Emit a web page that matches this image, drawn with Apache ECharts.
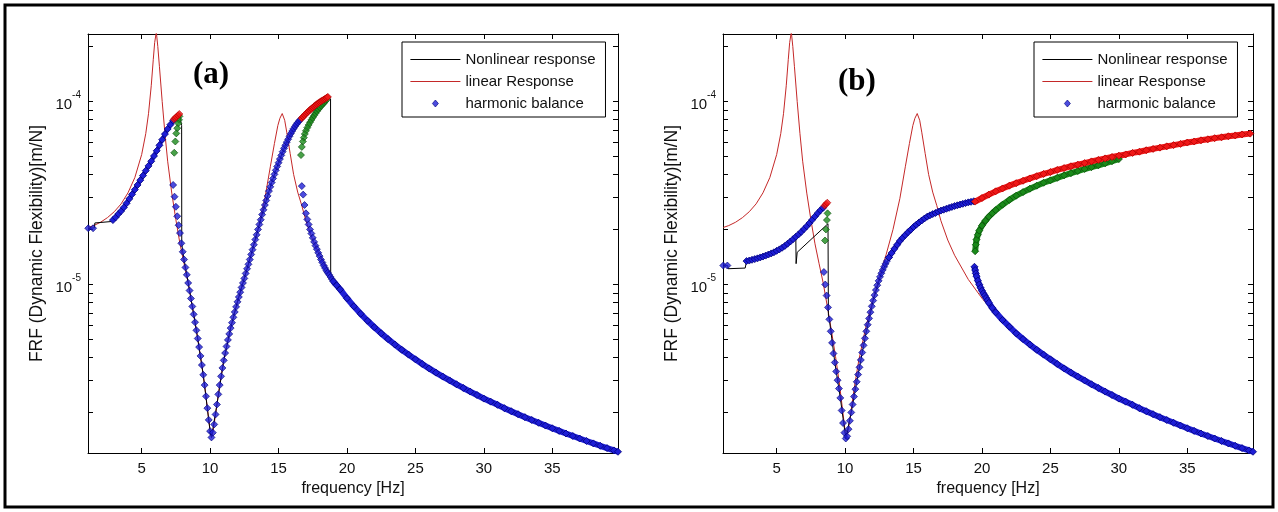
<!DOCTYPE html>
<html>
<head>
<meta charset="utf-8">
<title>FRF nonlinear vs linear</title>
<script src="https://cdn.jsdelivr.net/npm/echarts@6/dist/echarts.min.js"></script>
<style>
  html, body { margin: 0; padding: 0; background: #fff; }
  #chart { width: 1278px; height: 512px; }
</style>
</head>
<body>
<div id="chart"></div>
<script>
// axis ranges and ticks (same for both panels)
const xMin = 1.08, xMax = 39.8;
const yMin = 1.2e-6, yMax = 2.34e-4;
const xTicks = [5, 10, 15, 20, 25, 30, 35];
const yLabels = [1e-5, 1e-4];
const yTicks = [2e-6, 3e-6, 4e-6, 5e-6, 6e-6, 7e-6, 8e-6, 9e-6, 1e-5,
  2e-5, 3e-5, 4e-5, 5e-5, 6e-5, 7e-5, 8e-5, 9e-5, 1e-4, 2e-4];

// linear response, same system in both panels  [Hz, m/N]
const linResp = [[1.1,2.05e-5],[1.5,2.1e-5],[2,2.19e-5],[2.5,2.32e-5],[3,2.5e-5],[3.5,2.76e-5],[4,3.17e-5],
  [4.5,3.84e-5],[5,5.13e-5],[5.3,6.68e-5],[5.5,8.58e-5],[5.7,1.22e-4],[5.85,1.7e-4],[5.95,2.1e-4],[6.07,2.4e-4],
  [6.18,2.0e-4],[6.3,1.55e-4],[6.5,1.0e-4],[6.7,6.7e-5],[6.9,4.72e-5],[7.2,3.16e-5],[7.5,2.26e-5],[7.8,1.67e-5],
  [8.1,1.3e-5],[8.4,1.02e-5],[8.7,7.6e-6],[9.0,5.6e-6],[9.3,4.05e-6],[9.6,2.82e-6],[9.8,2.11e-6],[10.0,1.58e-6],
  [10.1,1.46e-6],[10.2,1.55e-6],[10.4,1.95e-6],[10.7,2.82e-6],[11.0,3.85e-6],[11.5,5.8e-6],[12,8.1e-6],
  [12.5,1.09e-5],[13,1.46e-5],[13.5,2.0e-5],[14,2.95e-5],[14.4,4.4e-5],[14.7,5.9e-5],[14.95,7.4e-5],[15.1,8.1e-5],
  [15.27,8.6e-5],[15.45,7.9e-5],[15.6,6.8e-5],[15.85,5.2e-5],[16.1,4.0e-5],[16.4,3.2e-5],[16.7,2.7e-5],
  [17,2.23e-5],[17.5,1.75e-5],[18,1.445e-5],[19,1.066e-5],[20,8.41e-6],[21,6.92e-6],[22,5.84e-6],[24,4.4e-6],
  [26,3.48e-6],[28,2.85e-6],[30,2.38e-6],[32,2.03e-6],[34,1.755e-6],[36,1.534e-6],[38,1.354e-6],[39.8,1.219e-6]];

// high frequency tail of the harmonic balance, lower branch
const tailResp = [[19.0,1.04e-5],[19.25,9.9e-6],[19.5,9.41e-6],[20,8.41e-6],[20.5,7.6e-6],[21,6.92e-6],[21.5,6.34e-6],
  [22,5.84e-6],[22.5,5.41e-6],[23,5.03e-6],[23.5,4.7e-6],[24,4.4e-6],[24.5,4.14e-6],[25,3.9e-6],[25.5,3.68e-6],
  [26,3.48e-6],[26.5,3.3e-6],[27,3.14e-6],[27.5,2.99e-6],[28,2.85e-6],[28.5,2.72e-6],[29,2.6e-6],[29.5,2.49e-6],
  [30,2.38e-6],[30.5,2.29e-6],[31,2.2e-6],[31.5,2.11e-6],[32,2.03e-6],[32.5,1.955e-6],[33,1.884e-6],
  [33.5,1.818e-6],[34,1.755e-6],[34.5,1.695e-6],[35,1.638e-6],[35.5,1.585e-6],[36,1.534e-6],[36.5,1.486e-6],
  [37,1.44e-6],[37.5,1.396e-6],[38,1.354e-6],[38.5,1.314e-6],[39,1.276e-6],[39.5,1.24e-6],[39.8,1.219e-6]];

// ---- panel (a) ----
const aNonlinear = [[1.1,2.03e-5],[1.55,2.04e-5],[1.58,2.17e-5],[2.8,2.21e-5],[2.9,2.25e-5],[3.5,2.52e-5],
  [4.1,2.94e-5],[4.7,3.5e-5],[5.3,4.19e-5],[5.9,5.04e-5],[6.5,6.19e-5],[6.9,7.08e-5],[7.3,7.85e-5],[7.5,8.15e-5],
  [7.75,8.55e-5],[7.92,7.4e-5],[7.93,1.68e-5],[8.0,1.51e-5],[8.5,9.27e-6],[9.0,5.62e-6],[9.5,3.21e-6],
  [10.0,1.58e-6],[10.1,1.46e-6],[10.5,2.21e-6],[11.0,3.85e-6],[11.5,5.78e-6],[12.0,8.04e-6],[12.5,1.08e-5],
  [13.0,1.46e-5],[13.5,2.0e-5],[14.0,2.72e-5],[14.5,3.61e-5],[15.0,4.63e-5],[15.5,5.77e-5],[16.0,6.9e-5],
  [16.6,7.98e-5],[17.0,8.57e-5],[17.5,9.28e-5],[18.0,9.92e-5],[18.6,1.06e-4],[18.8,1.035e-4],[18.81,1.1e-5],
  [19.0,1.04e-5],[19.5,9.41e-6],[20,8.41e-6],[21,6.92e-6],[22,5.84e-6],[24,4.4e-6],[26,3.48e-6],[28,2.85e-6],
  [30,2.38e-6],[32,2.03e-6],[34,1.755e-6],[36,1.534e-6],[38,1.354e-6],[39.8,1.219e-6]];
const aHbStart = [[1.1,2.03e-5],[1.45,2.03e-5]];
const aHbLow = [[2.9,2.25e-5],[3.1,2.33e-5],[3.3,2.43e-5],[3.5,2.52e-5],[3.7,2.64e-5],[3.9,2.78e-5],[4.1,2.94e-5],
  [4.3,3.11e-5],[4.5,3.3e-5],[4.7,3.5e-5],[4.9,3.72e-5],[5.1,3.94e-5],[5.3,4.19e-5],[5.5,4.45e-5],[5.7,4.72e-5],
  [5.9,5.04e-5],[6.1,5.38e-5],[6.3,5.77e-5],[6.5,6.19e-5],[6.7,6.64e-5],[6.9,7.08e-5],[7.1,7.48e-5],[7.3,7.85e-5]];
const aHbDrop = [[7.3,3.5e-5],[7.4,3.02e-5],[7.5,2.66e-5],[7.6,2.36e-5],[7.7,2.11e-5],[7.8,1.91e-5],[7.9,1.68e-5],
  [8.0,1.51e-5],[8.1,1.37e-5],[8.2,1.24e-5],[8.3,1.13e-5],[8.4,1.02e-5],[8.5,9.27e-6],[8.6,8.39e-6],[8.7,7.59e-6],
  [8.8,6.87e-6],[8.9,6.22e-6],[9.0,5.62e-6],[9.1,5.07e-6],[9.2,4.55e-6],[9.3,4.07e-6],[9.4,3.63e-6],[9.5,3.21e-6],
  [9.6,2.82e-6],[9.7,2.45e-6],[9.8,2.11e-6],[9.9,1.82e-6],[10.0,1.58e-6],[10.1,1.46e-6],[10.2,1.55e-6],
  [10.3,1.72e-6],[10.4,1.95e-6],[10.5,2.21e-6],[10.6,2.51e-6],[10.7,2.82e-6],[10.8,3.15e-6],[10.9,3.5e-6],
  [11.0,3.85e-6],[11.1,4.22e-6],[11.2,4.59e-6],[11.3,4.98e-6],[11.4,5.37e-6],[11.5,5.78e-6],[11.6,6.19e-6],
  [11.7,6.62e-6],[11.8,7.08e-6],[11.9,7.55e-6],[12.0,8.04e-6],[12.1,8.55e-6],[12.2,9.08e-6],[12.3,9.64e-6],
  [12.4,1.02e-5],[12.5,1.08e-5],[12.6,1.15e-5],[12.7,1.22e-5],[12.8,1.29e-5],[12.9,1.37e-5],[13.0,1.46e-5]];
const aHbRise = [[13.1,1.55e-5],[13.2,1.65e-5],[13.3,1.76e-5],[13.4,1.87e-5],[13.5,2.0e-5],[13.6,2.13e-5],
  [13.7,2.26e-5],[13.8,2.41e-5],[13.9,2.56e-5],[14.0,2.72e-5],[14.1,2.88e-5],[14.2,3.05e-5],[14.3,3.24e-5],
  [14.4,3.42e-5],[14.5,3.61e-5],[14.6,3.8e-5],[14.7,4.0e-5],[14.8,4.21e-5],[14.9,4.42e-5],[15.0,4.63e-5],
  [15.1,4.85e-5],[15.2,5.08e-5],[15.3,5.32e-5],[15.4,5.55e-5],[15.5,5.77e-5],[15.6,6.0e-5],[15.7,6.22e-5],
  [15.8,6.46e-5],[15.9,6.68e-5],[16.0,6.9e-5],[16.1,7.11e-5],[16.2,7.31e-5],[16.3,7.5e-5],[16.4,7.67e-5],
  [16.5,7.83e-5],[16.6,7.98e-5]];
const aHbDrop2 = [[16.7,3.45e-5],[16.8,3.1e-5],[16.9,2.72e-5],[17.0,2.45e-5],[17.1,2.27e-5],[17.2,2.13e-5],
  [17.3,2.0e-5],[17.4,1.9e-5],[17.5,1.8e-5],[17.6,1.71e-5],[17.7,1.63e-5],[17.8,1.56e-5],[17.9,1.49e-5],
  [18.0,1.43e-5],[18.1,1.37e-5],[18.2,1.32e-5],[18.3,1.27e-5],[18.4,1.23e-5],[18.5,1.19e-5],[18.6,1.16e-5],
  [18.7,1.13e-5],[18.8,1.1e-5],[18.9,1.07e-5]];
const aUpper1 = [[7.35,8.0e-5],[7.45,8.13e-5],[7.55,8.26e-5],[7.65,8.4e-5],[7.75,8.55e-5]];
const aUnstable1 = [[7.76,8.3e-5],[7.73,7.95e-5],[7.68,7.6e-5],[7.6,7.15e-5],[7.53,6.7e-5],[7.46,6.05e-5],[7.38,5.25e-5]];
const aUpper2 = [[16.7,8.12e-5],[16.8,8.27e-5],[16.9,8.42e-5],[17.0,8.57e-5],[17.1,8.72e-5],[17.2,8.86e-5],
  [17.3,9.0e-5],[17.4,9.14e-5],[17.5,9.28e-5],[17.6,9.42e-5],[17.7,9.55e-5],[17.8,9.68e-5],[17.9,9.8e-5],
  [18.0,9.92e-5],[18.1,1.003e-4],[18.2,1.014e-4],[18.3,1.025e-4],[18.4,1.035e-4],[18.5,1.048e-4],[18.6,1.06e-4]];
const aUnstable2 = [[18.5,1.02e-4],[18.4,1.0e-4],[18.3,9.8e-5],[18.2,9.62e-5],[18.1,9.45e-5],[18.0,9.25e-5],
  [17.9,9.05e-5],[17.8,8.85e-5],[17.7,8.62e-5],[17.6,8.4e-5],[17.5,8.17e-5],[17.4,7.94e-5],[17.3,7.7e-5],
  [17.2,7.45e-5],[17.1,7.2e-5],[17.0,6.92e-5],[16.92,6.65e-5],[16.85,6.35e-5],[16.78,6.05e-5],[16.7,5.65e-5],
  [16.64,5.1e-5]];

// ---- panel (b) ----
const bNonlinear = [[1.1,1.27e-5],[1.42,1.27e-5],[1.45,1.22e-5],[2.7,1.23e-5],[2.8,1.343e-5],[3.4,1.377e-5],
  [4.0,1.422e-5],[4.6,1.479e-5],[5.2,1.556e-5],[5.8,1.671e-5],[6.2,1.77e-5],[6.4,1.8e-5],[6.42,1.3e-5],
  [6.5,1.5e-5],[8.75,2.15e-5],[8.78,6.8e-6],[8.85,6.45e-6],[9.25,3.75e-6],[9.65,2.4e-6],[10.05,1.44e-6],
  [10.45,2.0e-6],[10.85,2.94e-6],[11.45,5.08e-6],[12.05,8.17e-6],[12.65,1.153e-5],[13.4,1.486e-5],
  [14.4,1.866e-5],[15.4,2.183e-5],[16.4,2.427e-5],[17.4,2.594e-5],[18.4,2.735e-5],[19.4,2.851e-5],[20.5,3.1e-5],
  [22,3.47e-5],[24,3.91e-5],[26,4.33e-5],[28,4.71e-5],[30,5.06e-5],[32,5.42e-5],[34,5.78e-5],[36,6.14e-5],
  [38,6.46e-5],[39.6,6.68e-5]];
const bHbStart = [[1.1,1.27e-5],[1.4,1.27e-5]];
const bHbLow = [[2.8,1.343e-5],[3.0,1.352e-5],[3.2,1.365e-5],[3.4,1.377e-5],[3.6,1.39e-5],[3.8,1.406e-5],
  [4.0,1.422e-5],[4.2,1.439e-5],[4.4,1.459e-5],[4.6,1.479e-5],[4.8,1.5e-5],[5.0,1.528e-5],[5.2,1.556e-5],
  [5.4,1.589e-5],[5.6,1.626e-5],[5.8,1.671e-5],[6.0,1.718e-5],[6.2,1.77e-5],[6.4,1.824e-5],[6.6,1.879e-5],
  [6.8,1.941e-5],[7.0,2.01e-5],[7.2,2.084e-5],[7.4,2.168e-5],[7.6,2.259e-5],[7.8,2.355e-5],[8.0,2.455e-5],
  [8.2,2.547e-5],[8.4,2.63e-5]];
const bHbDrop = [[8.45,1.17e-5],[8.55,1.0e-5],[8.65,8.7e-6],[8.75,7.5e-6],[8.85,6.45e-6],[8.95,5.55e-6],
  [9.05,4.8e-6],[9.15,4.2e-6],[9.25,3.75e-6],[9.35,3.35e-6],[9.45,3.0e-6],[9.55,2.7e-6],[9.65,2.4e-6],
  [9.75,2.05e-6],[9.85,1.75e-6],[9.95,1.55e-6],[10.05,1.44e-6],[10.15,1.48e-6],[10.25,1.62e-6],[10.35,1.8e-6],
  [10.45,2.0e-6],[10.55,2.21e-6],[10.65,2.44e-6],[10.75,2.68e-6],[10.85,2.94e-6],[10.95,3.22e-6],[11.05,3.53e-6],
  [11.15,3.87e-6],[11.25,4.25e-6],[11.35,4.65e-6],[11.45,5.08e-6],[11.55,5.55e-6],[11.65,6.03e-6],[11.75,6.53e-6],
  [11.85,7.06e-6],[11.95,7.6e-6],[12.05,8.17e-6],[12.15,8.75e-6],[12.25,9.33e-6],[12.35,9.91e-6],[12.45,1.047e-5],
  [12.55,1.102e-5],[12.65,1.153e-5],[12.75,1.202e-5],[12.85,1.25e-5],[12.95,1.297e-5],[13.05,1.343e-5],
  [13.2,1.406e-5]];
const bHbRise = [[13.2,1.406e-5],[13.4,1.486e-5],[13.6,1.567e-5],[13.8,1.648e-5],[14.0,1.73e-5],[14.2,1.8e-5],
  [14.4,1.866e-5],[14.6,1.932e-5],[14.8,1.995e-5],[15.0,2.061e-5],[15.2,2.123e-5],[15.4,2.183e-5],[15.6,2.239e-5],
  [15.8,2.296e-5],[16.0,2.35e-5],[16.2,2.388e-5],[16.4,2.427e-5],[16.6,2.46e-5],[16.8,2.5e-5],[17.0,2.535e-5],
  [17.2,2.564e-5],[17.4,2.594e-5],[17.6,2.624e-5],[17.8,2.655e-5],[18.0,2.685e-5],[18.2,2.71e-5],[18.4,2.735e-5],
  [18.6,2.761e-5],[18.8,2.786e-5],[19.0,2.812e-5],[19.2,2.831e-5],[19.4,2.851e-5]];
const bHbLowerStart = [[19.45,1.25e-5],[19.5,1.2e-5],[19.55,1.15e-5],[19.6,1.11e-5],[19.7,1.05e-5],[19.8,1.0e-5],
  [19.9,9.6e-6],[20.0,9.25e-6],[20.1,8.95e-6],[20.2,8.7e-6],[20.3,8.45e-6],[20.4,8.2e-6],[20.5,7.95e-6],
  [20.75,7.45e-6],[21.0,7.05e-6],[21.5,6.4e-6],[22.0,5.88e-6]];
const bUpper1 = [[8.5,2.7e-5],[8.6,2.75e-5],[8.7,2.8e-5]];
const bUnstable1 = [[8.72,2.45e-5],[8.67,2.25e-5],[8.6,2.0e-5],[8.53,1.74e-5]];
const bUpper2 = [[19.5,2.84e-5],[20.0,2.97e-5],[20.5,3.1e-5],[21.0,3.23e-5],[21.5,3.35e-5],[22.0,3.47e-5],
  [22.5,3.58e-5],[23.0,3.69e-5],[23.5,3.8e-5],[24.0,3.91e-5],[24.5,4.02e-5],[25.0,4.12e-5],[25.5,4.23e-5],
  [26.0,4.33e-5],[26.5,4.43e-5],[27.0,4.52e-5],[27.5,4.61e-5],[28.0,4.71e-5],[28.5,4.8e-5],[29.0,4.89e-5],
  [29.5,4.98e-5],[30.0,5.06e-5],[30.5,5.14e-5],[31.0,5.24e-5],[31.5,5.32e-5],[32.0,5.42e-5],[32.5,5.51e-5],
  [33.0,5.6e-5],[33.5,5.69e-5],[34.0,5.78e-5],[34.5,5.87e-5],[35.0,5.97e-5],[35.5,6.05e-5],[36.0,6.14e-5],
  [36.5,6.22e-5],[37.0,6.31e-5],[37.5,6.38e-5],[38.0,6.46e-5],[38.5,6.53e-5],[39.0,6.61e-5],[39.6,6.68e-5]];
const bUnstable2 = [[19.5,1.52e-5],[19.55,1.65e-5],[19.6,1.76e-5],[19.7,1.87e-5],[19.8,1.97e-5],[20.0,2.1e-5],
  [20.25,2.23e-5],[20.5,2.35e-5],[20.75,2.45e-5],[21.0,2.55e-5],[21.5,2.73e-5],[22.0,2.9e-5],[22.5,3.06e-5],
  [23.0,3.2e-5],[23.5,3.34e-5],[24.0,3.47e-5],[24.5,3.6e-5],[25.0,3.71e-5],[25.5,3.83e-5],[26.0,3.95e-5],
  [26.5,4.06e-5],[27.0,4.17e-5],[27.5,4.28e-5],[28.0,4.38e-5],[28.5,4.48e-5],[29.0,4.6e-5],[29.5,4.72e-5],
  [30.0,4.85e-5]];

const sans = "'Liberation Sans', Arial, Helvetica, sans-serif";
const serif = "'Liberation Serif', 'Times New Roman', serif";
const BLUE = '#1e1ed6', BLUE_EDGE = '#00007a';
const RED = '#f01818', RED_EDGE = '#b00000';
const GREEN = '#1a8a1a', GREEN_EDGE = '#0b4f0b';
const LIN_RED = '#c42828';

// legend icons: the leading moves fix the icon box to 50x7
const LINE_ICON = 'path://M0,0 M50,7 M0,3 L50,3 L50,4 L0,4 Z';
const DIAMOND_ICON = 'path://M0,0 M50,7 M25,0 L28,3.5 L25,7 L22,3.5 Z';

let chart = echarts.init(document.getElementById('chart'));

// plotting rectangles for (a) and (b)
const panels = [
  { left: 88, top: 34, width: 530, height: 419 },
  { left: 723, top: 34, width: 530, height: 419 }
];

let grids = [], xAxes = [], yAxes = [];
panels.forEach(function (p, k) {
  // data grid (invisible axes) and frame grid (ticks, labels, box)
  grids.push(Object.assign({}, p), Object.assign({}, p));
  let g = k * 2;
  xAxes.push({ gridIndex: g, type: 'value', min: xMin, max: xMax, show: false });
  yAxes.push({ gridIndex: g, type: 'log', logBase: 10, min: yMin, max: yMax, show: false });
  ['bottom', 'top'].forEach(function (pos) {
    xAxes.push({
      gridIndex: g + 1, type: 'value', position: pos, min: xMin, max: xMax,
      name: pos === 'bottom' ? 'frequency [Hz]' : '',
      nameLocation: 'middle', nameGap: 27,
      nameTextStyle: { fontFamily: sans, fontSize: 16, color: '#111' },
      axisLine: { show: true, lineStyle: { color: '#000', width: 1 } },
      axisTick: { show: true, inside: true, length: 5, customValues: xTicks, lineStyle: { color: '#000' } },
      axisLabel: { show: pos === 'bottom', customValues: xTicks, margin: 8,
        fontFamily: sans, fontSize: 15, color: '#111' },
      splitLine: { show: false }
    });
  });
  ['left', 'right'].forEach(function (pos) {
    yAxes.push({
      gridIndex: g + 1, type: 'value', position: pos,
      min: Math.log10(yMin), max: Math.log10(yMax),
      name: pos === 'left' ? 'FRF (Dynamic Flexibility)[m/N]' : '',
      nameLocation: 'middle', nameGap: 42,
      nameTextStyle: { fontFamily: sans, fontSize: 17.5, color: '#111' },
      axisLine: { show: true, lineStyle: { color: '#000', width: 1 } },
      axisTick: { show: true, inside: true, length: 5, customValues: yTicks.map(Math.log10),
        lineStyle: { color: '#000' } },
      axisLabel: {
        show: pos === 'left', customValues: yLabels.map(Math.log10), margin: 7,
        formatter: function (v) { return '{b|10}{e|' + Math.round(v) + '}'; },
        rich: {
          b: { fontFamily: sans, fontSize: 15, color: '#111', lineHeight: 22, verticalAlign: 'bottom' },
          e: { fontFamily: sans, fontSize: 10, color: '#111', lineHeight: 12, verticalAlign: 'top' }
        }
      },
      splitLine: { show: false }
    });
  });
});

function lineSeries(name, data, color, k) {
  return {
    type: 'line', name: name, data: data, xAxisIndex: k * 3, yAxisIndex: k * 3,
    symbol: 'none', showSymbol: false, clip: true, z: 2,
    lineStyle: { color: color, width: 1 }, itemStyle: { color: color }
  };
}

function hbSeries(name, data, fill, edge, k, band) {
  let s = {
    name: name, data: data, xAxisIndex: k * 3, yAxisIndex: k * 3,
    symbol: 'diamond', symbolSize: 7, z: 3, clip: true,
    itemStyle: { color: fill, borderColor: edge, borderWidth: 0.8 }
  };
  if (band) {
    // dense runs of points: a thick line in the same colour fills between the markers
    s.type = 'line';
    s.name = name + ' band';
    s.showSymbol = true;
    s.lineStyle = { color: fill, width: band };
  } else {
    s.type = 'scatter';
  }
  return s;
}

let series = [
  // (a)
  lineSeries('linear Response', linResp, LIN_RED, 0),
  lineSeries('Nonlinear response', aNonlinear, '#000', 0),
  hbSeries('harmonic balance', aHbStart, BLUE, BLUE_EDGE, 0),
  hbSeries('harmonic balance', aHbLow, BLUE, BLUE_EDGE, 0, 4),
  hbSeries('harmonic balance', aHbDrop, BLUE, BLUE_EDGE, 0),
  hbSeries('harmonic balance', aHbRise, BLUE, BLUE_EDGE, 0),
  hbSeries('harmonic balance', aHbDrop2, BLUE, BLUE_EDGE, 0),
  hbSeries('harmonic balance', tailResp, BLUE, BLUE_EDGE, 0, 6),
  hbSeries('unstable', aUnstable1, GREEN, GREEN_EDGE, 0),
  hbSeries('unstable', aUnstable2, GREEN, GREEN_EDGE, 0),
  hbSeries('upper', aUpper1, RED, RED_EDGE, 0),
  hbSeries('upper', aUpper2, RED, RED_EDGE, 0, 4),
  // (b)
  lineSeries('linear Response', linResp, LIN_RED, 1),
  lineSeries('Nonlinear response', bNonlinear, '#000', 1),
  hbSeries('harmonic balance', bHbStart, BLUE, BLUE_EDGE, 1),
  hbSeries('harmonic balance', bHbLow, BLUE, BLUE_EDGE, 1, 4),
  hbSeries('harmonic balance', bHbDrop, BLUE, BLUE_EDGE, 1),
  hbSeries('harmonic balance', bHbRise, BLUE, BLUE_EDGE, 1, 5),
  hbSeries('harmonic balance', bHbLowerStart.concat(tailResp.filter(function (d) { return d[0] > 22; })),
    BLUE, BLUE_EDGE, 1, 6),
  hbSeries('unstable', bUnstable1, GREEN, GREEN_EDGE, 1),
  hbSeries('unstable', bUnstable2, GREEN, GREEN_EDGE, 1, 6),
  hbSeries('upper', bUpper1, RED, RED_EDGE, 1),
  hbSeries('upper', bUpper2, RED, RED_EDGE, 1, 6)
];

function legendAt(left) {
  return {
    left: left, top: 42, orient: 'vertical', selectedMode: false,
    itemWidth: 50, itemHeight: 7, itemGap: 7,
    padding: [10, 10, 6, 8],
    backgroundColor: '#fff', borderColor: '#000', borderWidth: 1, borderRadius: 0,
    textStyle: { fontFamily: sans, fontSize: 15, color: '#111', lineHeight: 15 },
    data: [
      { name: 'Nonlinear response', icon: LINE_ICON, itemStyle: { color: '#000', borderWidth: 0 } },
      { name: 'linear Response', icon: LINE_ICON, itemStyle: { color: LIN_RED, borderWidth: 0 } },
      { name: 'harmonic balance', icon: DIAMOND_ICON,
        itemStyle: { color: BLUE, borderColor: BLUE_EDGE, borderWidth: 0.8 } }
    ]
  };
}

chart.setOption({
  animation: false,
  backgroundColor: '#fff',
  title: [
    { text: '(a)', left: 193, top: 59, padding: 0,
      textStyle: { fontFamily: serif, fontWeight: 'bold', fontSize: 31, color: '#000' } },
    { text: '(b)', left: 838, top: 66, padding: 0,
      textStyle: { fontFamily: serif, fontWeight: 'bold', fontSize: 31, color: '#000' } }
  ],
  legend: [legendAt(402), legendAt(1034)],
  grid: grids,
  xAxis: xAxes,
  yAxis: yAxes,
  series: series,
  graphic: [{
    type: 'rect', silent: true, z: 100,
    shape: { x: 5, y: 5, width: 1268, height: 502 },
    style: { fill: 'none', stroke: '#000', lineWidth: 3 }
  }]
});
</script>
</body>
</html>
